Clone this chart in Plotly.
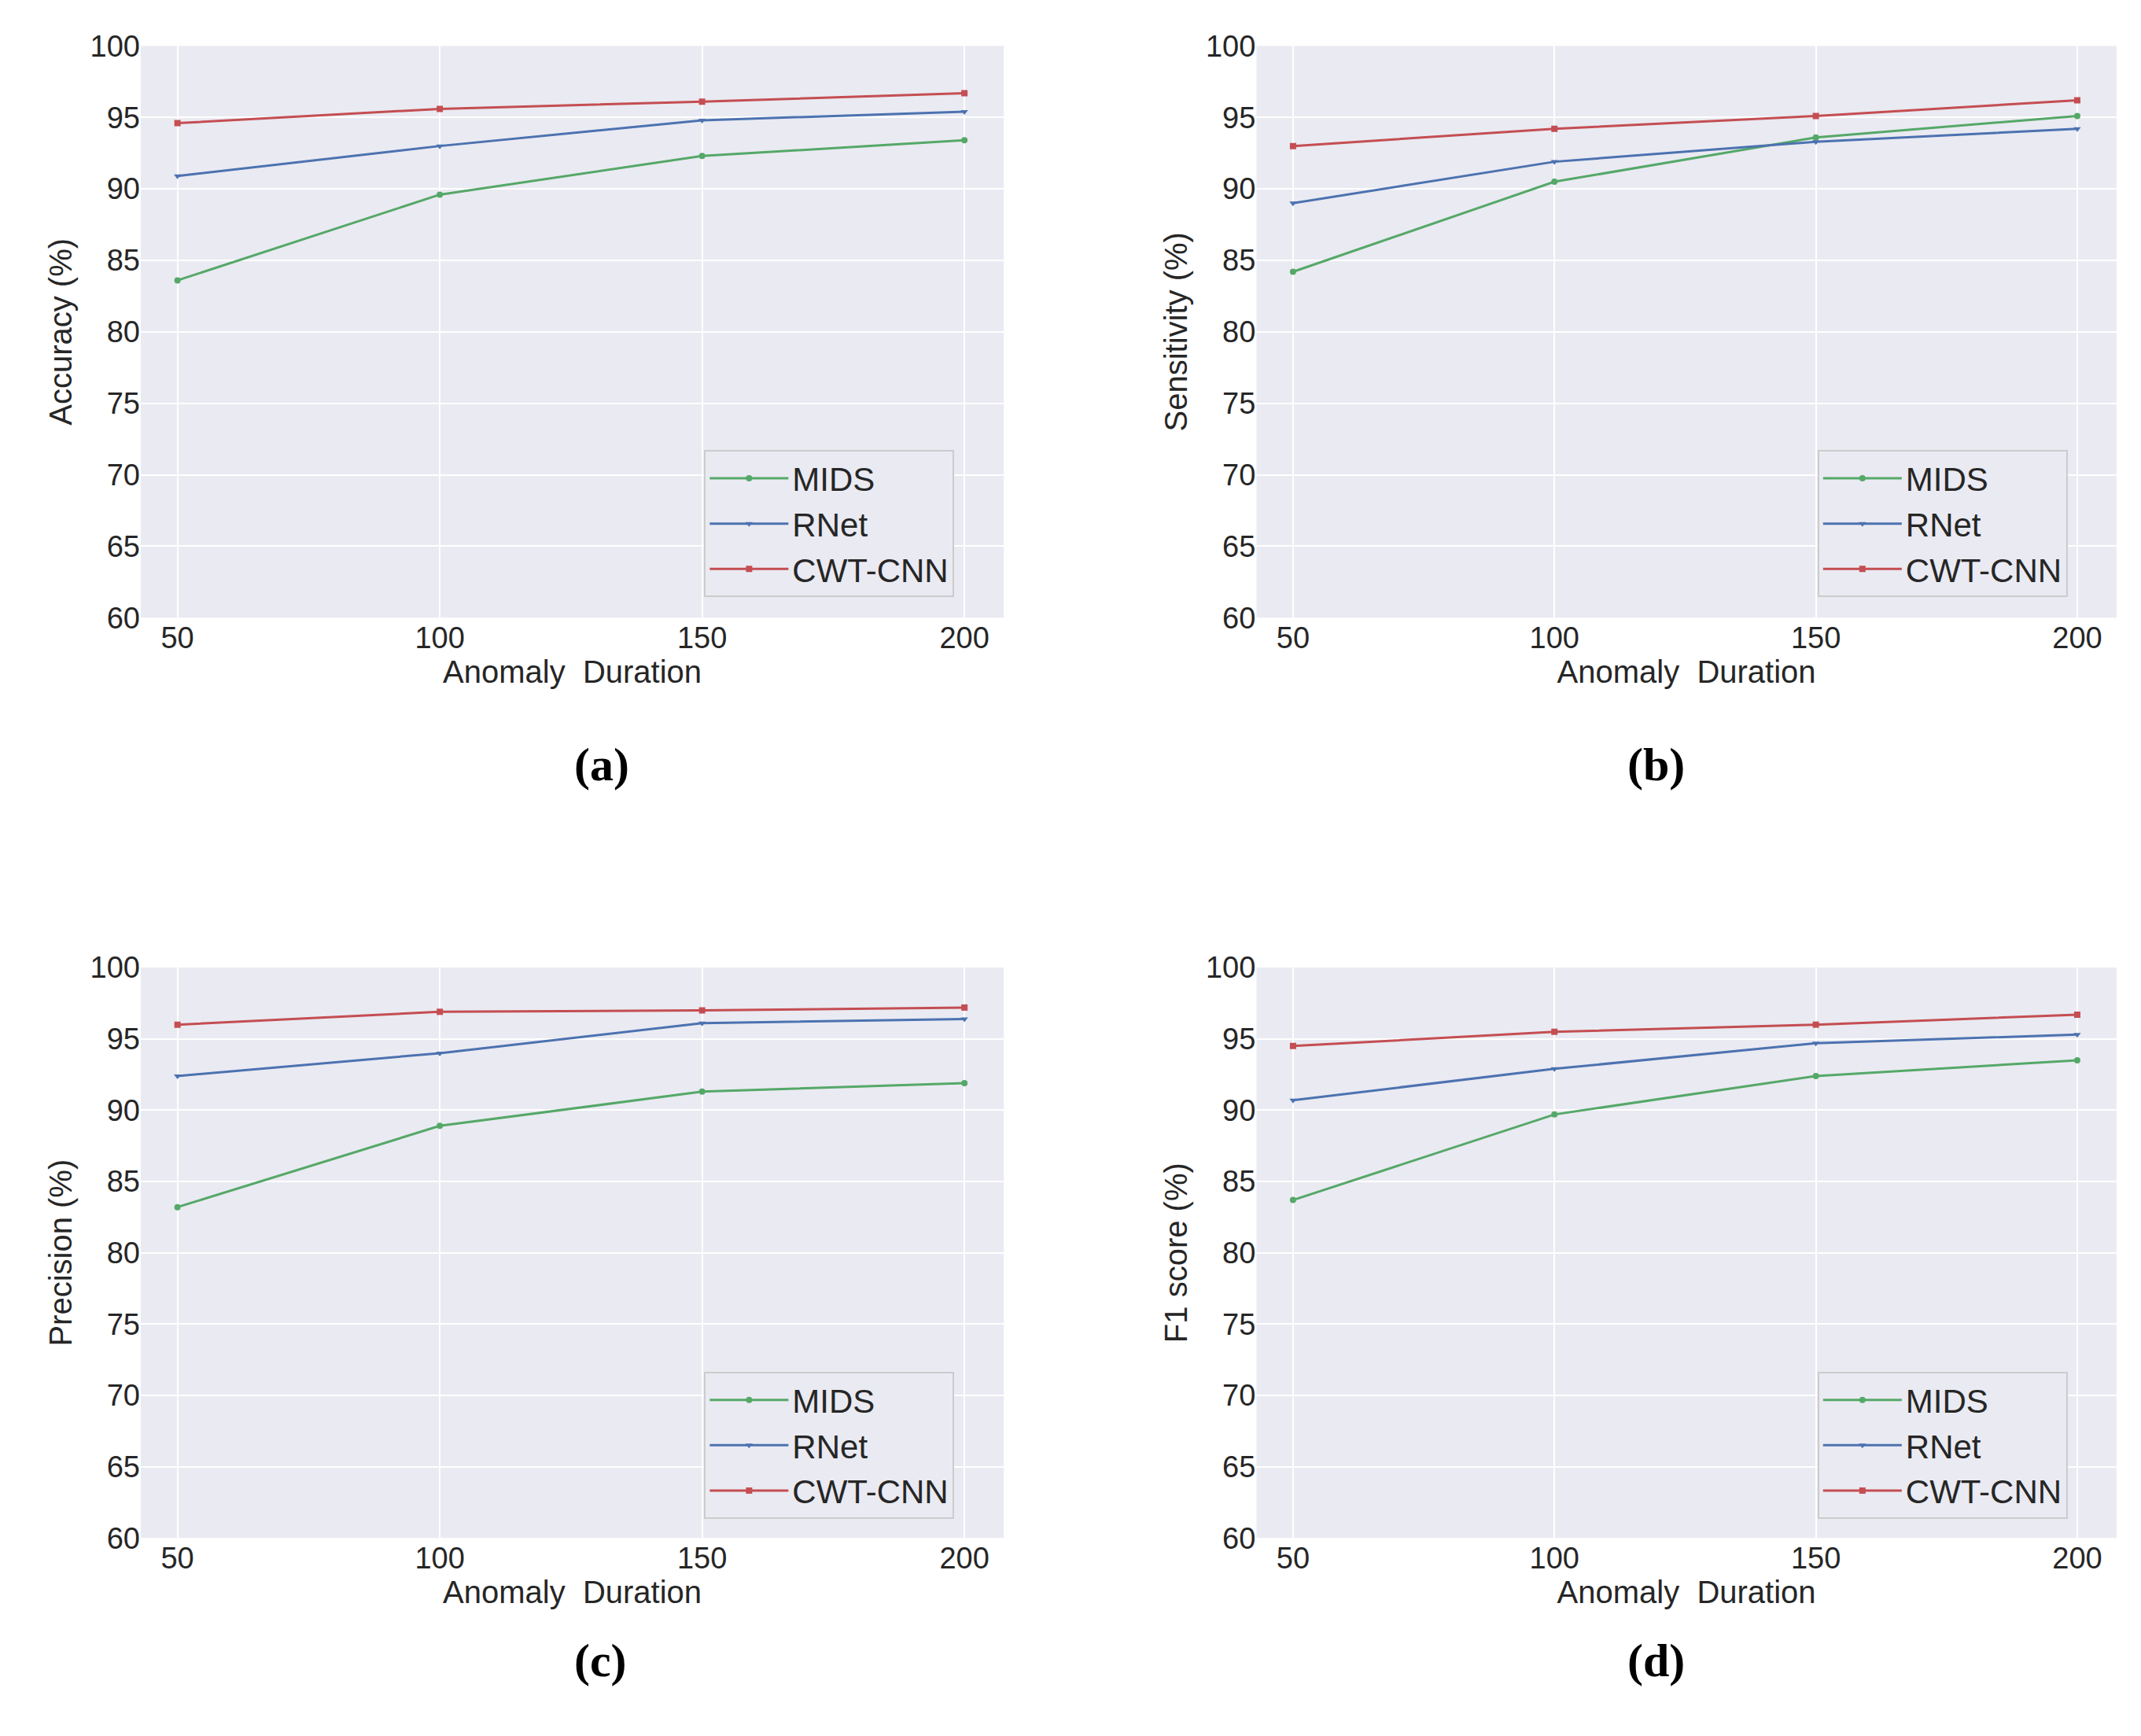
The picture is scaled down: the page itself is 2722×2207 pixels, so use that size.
import plotly.graph_objects as go

durations = [50, 100, 150, 200]
series_names = ["MIDS", "RNet", "CWT-CNN"]
acc = {"MIDS": [83.6, 89.6, 92.3, 93.4], "RNet": [90.9, 93.0, 94.8, 95.4], "CWT-CNN": [94.6, 95.6, 96.1, 96.7]}
sens = {"MIDS": [84.2, 90.5, 93.6, 95.1], "RNet": [89.0, 91.9, 93.3, 94.2], "CWT-CNN": [93.0, 94.2, 95.1, 96.2]}
prec = {"MIDS": [83.2, 88.9, 91.3, 91.9], "RNet": [92.4, 94.0, 96.1, 96.4], "CWT-CNN": [96.0, 96.9, 97.0, 97.2]}
f1 = {"MIDS": [83.7, 89.7, 92.4, 93.5], "RNet": [90.7, 92.9, 94.7, 95.3], "CWT-CNN": [94.5, 95.5, 96.0, 96.7]}
y_titles = ["Accuracy (%)", "Sensitivity (%)", "Precision (%)", "F1 score (%)"]
panel_labels = ["(a)", "(b)", "(c)", "(d)"]
y_ticks = [60, 65, 70, 75, 80, 85, 90, 95, 100]

colors = {"MIDS": "#55a868", "RNet": "#4c72b0", "CWT-CNN": "#c44e52"}
symbols = {"MIDS": "circle", "RNet": "triangle-down", "CWT-CNN": "square"}

xdoms = [(0.0628, 0.4659), (0.5839, 0.9856)]
ydoms = [(0.6507, 0.9864), (0.1103, 0.4452)]
label_y = [0.5644, 0.0224]
leg_x = [0.326, 0.846]
leg_y = [0.6627, 0.1215]

fig = go.Figure()
layout = {}
for i, data in enumerate([acc, sens, prec, f1]):
    r, c = divmod(i, 2)
    n = "" if i == 0 else str(i + 1)
    leg = "legend" + n
    for s in series_names:
        fig.add_trace(go.Scatter(
            x=durations, y=data[s], name=s, mode="lines+markers",
            line=dict(color=colors[s], width=3),
            marker=dict(symbol=symbols[s], size=8, color=colors[s]),
            xaxis="x" + n, yaxis="y" + n, legend=leg))
    layout["xaxis" + n] = dict(domain=xdoms[c], anchor="y" + n, range=[43, 207.5],
                               tickvals=durations, showgrid=True, gridcolor="white", gridwidth=2,
                               zeroline=False, showline=False, ticks="",
                               tickfont=dict(size=38, color="#262626"),
                               title=dict(text="Anomaly  Duration", font=dict(size=40, color="#262626"), standoff=0))
    layout["yaxis" + n] = dict(domain=ydoms[r], anchor="x" + n, range=[60, 100],
                               tickvals=y_ticks, showgrid=True, gridcolor="white", gridwidth=2,
                               zeroline=False, showline=False, ticks="",
                               tickfont=dict(size=38, color="#262626"),
                               title=dict(text=y_titles[i], font=dict(size=40, color="#262626"), standoff=10))
    layout[leg] = dict(x=leg_x[c], y=leg_y[r], xanchor="left", yanchor="bottom",
                       bgcolor="#eaeaf2", bordercolor="#cccccc", borderwidth=2,
                       font=dict(size=42, color="#262626"), itemwidth=100, tracegroupgap=0)
    fig.add_annotation(text="<b>" + panel_labels[i] + "</b>", xref="paper", yref="paper",
                       x=(xdoms[c][0] + xdoms[c][1]) / 2, y=label_y[r], showarrow=False,
                       font=dict(size=60, family="Liberation Serif", color="black"))

fig.update_layout(width=2722, height=2207, plot_bgcolor="#eaeaf2", paper_bgcolor="white",
                  margin=dict(l=0, r=0, t=0, b=0), font=dict(family="Liberation Sans"), **layout)
fig.write_html("out.html")
